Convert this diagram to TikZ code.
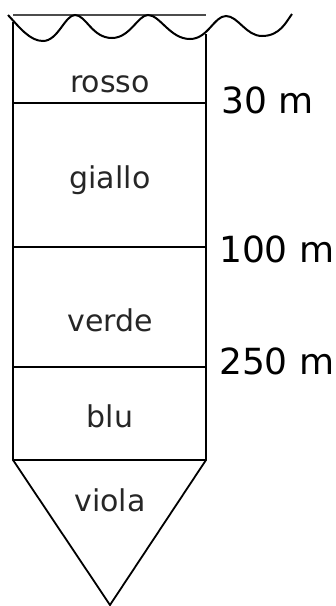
\documentclass[tikz,border=0pt]{standalone}
\usepackage{fontspec}
\setmainfont{DejaVu Sans}
\begin{document}
\begin{tikzpicture}[x=1pt,y=-1pt,
  wall/.style={line width=1.8pt, black},
  layerlabel/.style={font=\fontsize{30}{30}\selectfont, text=black!85, inner sep=0pt},
  depthlabel/.style={font=\fontsize{36}{36}\selectfont, anchor=west, inner sep=0pt}]
\useasboundingbox (0,0) rectangle (336,606);
% surface line
\draw[line width=1.2pt, black!70] (13,15) -- (206,15);
% waves
\draw[wall, line width=2pt] (8,15) .. controls (20,28) and (30,41) .. (43,41)
  .. controls (58,41) and (65,15) .. (75,15)
  .. controls (86,15) and (92,38) .. (112,38)
  .. controls (130,38) and (138,15) .. (148,15)
  .. controls (160,15) and (170,39) .. (190,39)
  .. controls (208,39) and (214,16) .. (226,16)
  .. controls (238,16) and (246,36) .. (262,36)
  .. controls (280,36) and (286,22) .. (292,14);
% column
\coordinate (tl) at (13,22);
\coordinate (tr) at (206,34);
\coordinate (l1) at (13,103);  \coordinate (r1) at (206,103);
\coordinate (l2) at (13,247);  \coordinate (r2) at (206,247);
\coordinate (l3) at (13,367);  \coordinate (r3) at (206,367);
\coordinate (l4) at (13,460);  \coordinate (r4) at (206,460);
\coordinate (apex) at (110,605);
\draw[wall] (tl) -- (l4) -- (apex) -- (r4) -- (tr);
\draw[wall] (l1) -- (r1);
\draw[wall] (l2) -- (r2);
\draw[wall] (l3) -- (r3);
\draw[wall] (l4) -- (r4);
% labels
\node[layerlabel] (rosso) at (110,84) {rosso};
\node[layerlabel] (giallo) at (110,180) {giallo};
\node[layerlabel] (verde) at (110,320) {verde};
\node[layerlabel] (blu) at (110,416) {blu};
\node[layerlabel] (viola) at (110,500) {viola};
\node[depthlabel] (d30) at (221,100) {30 m};
\node[depthlabel] (d100) at (219,249) {100 m};
\node[depthlabel] (d250) at (219,361) {250 m};
\end{tikzpicture}
\end{document}
